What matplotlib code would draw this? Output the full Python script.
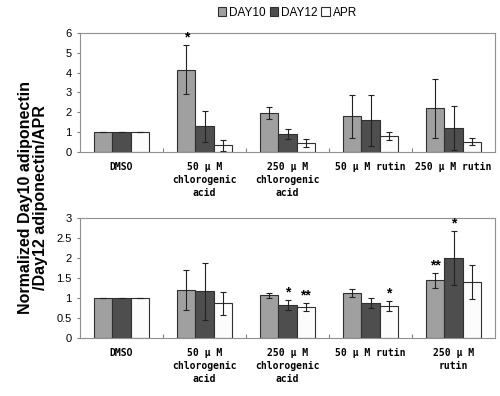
import numpy as np
import matplotlib.pyplot as plt

plt.rcParams['font.family'] = ['Liberation Sans', 'DejaVu Sans']

categories = ['DMSO', '50 \u03bc M\nchlorogenic\nacid', '250 \u03bc M\nchlorogenic\nacid',
              '50 \u03bc M rutin', '250 \u03bc M rutin']
categories_bottom = ['DMSO', '50 \u03bc M\nchlorogenic\nacid', '250 \u03bc M\nchlorogenic\nacid',
                     '50 \u03bc M rutin', '250 \u03bc M\nrutin']
series = ['DAY10', 'DAY12', 'APR']

# top panel
top_day10 = [1.0, 4.15, 1.97, 1.8, 2.2]
top_day12 = [1.0, 1.3, 0.9, 1.6, 1.2]
top_apr = [1.0, 0.35, 0.47, 0.8, 0.53]
top_day10_err = [0, 1.25, 0.3, 1.08, 1.5]
top_day12_err = [0, 0.77, 0.25, 1.28, 1.1]
top_apr_err = [0, 0.28, 0.2, 0.2, 0.17]
top_stars = [(1, 0, '*')]

# bottom panel
bot_day10 = [1.0, 1.2, 1.07, 1.12, 1.45]
bot_day12 = [1.0, 1.17, 0.83, 0.88, 2.0]
bot_apr = [1.0, 0.87, 0.78, 0.8, 1.4]
bot_day10_err = [0, 0.5, 0.07, 0.1, 0.19]
bot_day12_err = [0, 0.72, 0.13, 0.13, 0.68]
bot_apr_err = [0, 0.29, 0.1, 0.13, 0.42]
bot_stars = [(2, 1, '*'), (2, 2, '**'), (3, 2, '*'), (4, 0, '**'), (4, 1, '*')]

colors = ['#a0a0a0', '#4e4e4e', '#fcfcfc']
w = 0.22


def panel(ax, vals, errs, stars, ymax, step, labels):
    x = np.arange(len(labels))
    handles = []
    for k in range(3):
        b = ax.bar(x + (k - 1) * w, vals[k], w, yerr=errs[k], color=colors[k],
                   edgecolor='#303030', linewidth=0.8,
                   error_kw=dict(ecolor='#222222', elinewidth=0.8, capsize=2, capthick=0.8))
        handles.append(b)
    for i, k, s in stars:
        ax.text(i + (k - 1) * w, vals[k][i] + errs[k][i] + ymax * 0.005, s,
                ha='center', va='bottom', fontsize=10, fontweight='bold')
    ax.set_xlim(-0.5, len(labels) - 0.5)
    ax.set_ylim(0, ymax)
    ax.set_yticks(np.arange(0, ymax + step / 2, step))
    ax.set_yticklabels(['%g' % v for v in np.arange(0, ymax + step / 2, step)])
    ax.set_xticks(np.arange(len(labels) - 1) + 0.5)
    ax.set_xticklabels([])
    ax.tick_params(axis='x', direction='in', length=3, color='#808080')
    ax.tick_params(axis='y', length=2, labelsize=8, color='#808080', pad=4)
    for sp in ax.spines.values():
        sp.set_color('#909090')
        sp.set_linewidth(0.8)
    for i, lab in enumerate(labels):
        ax.text(i, -0.085, lab, transform=ax.get_xaxis_transform(), ha='center', va='top',
                fontsize=7, fontweight='bold', family=['DejaVu Sans Mono'],
                linespacing=1.35)
    return handles


fig = plt.figure(figsize=(5, 3.96), dpi=100)
ax1 = fig.add_axes([0.16, 0.616, 0.83, 0.301])
ax2 = fig.add_axes([0.16, 0.146, 0.83, 0.303])

h = panel(ax1, [top_day10, top_day12, top_apr], [top_day10_err, top_day12_err, top_apr_err],
          top_stars, 6, 1, categories)
panel(ax2, [bot_day10, bot_day12, bot_apr], [bot_day10_err, bot_day12_err, bot_apr_err],
      bot_stars, 3, 0.5, categories_bottom)

fig.legend(h, series, loc='upper center', bbox_to_anchor=(0.575, 1.01), ncol=3, frameon=False,
           fontsize=8.5, handlelength=0.7, handleheight=0.7, handletextpad=0.3, columnspacing=0.3)

fig.text(0.066, 0.502, 'Normalized Day10 adiponectin\n/Day12 adiponectin/APR', rotation=90,
         ha='center', va='center', fontsize=11.5, fontweight='bold', linespacing=0.95)

fig.savefig('out.png', dpi=100)
